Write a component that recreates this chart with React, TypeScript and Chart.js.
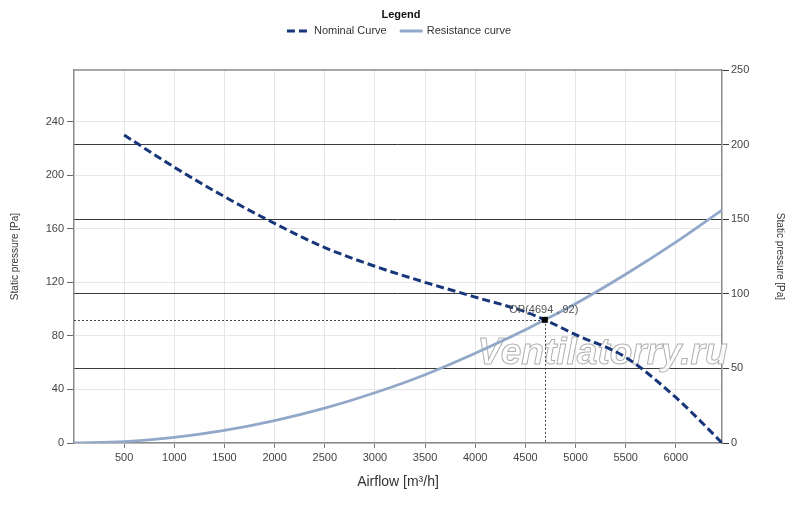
import React, { useEffect, useRef } from "react";
import { Chart, registerables } from "chart.js";

Chart.register(...registerables);

// ---- Data ----
const nominalFlow = [500, 1000, 1500, 2000, 2500, 3000, 3500, 4000, 4500, 4694, 5000, 5500, 6000, 6250, 6460];
const nominalPressure = [230, 206, 184, 164, 146, 132, 120, 109, 98, 92, 81, 64, 34, 16, 0];
const resistanceFlow = [0, 500, 1000, 1500, 2000, 2500, 3000, 3500, 4000, 4500, 4694, 5000, 5500, 6000, 6460];
const resistancePressure = [0, 1, 4.2, 9.4, 16.7, 26, 37.5, 51, 67, 84.5, 92, 104, 126, 150, 174];
const opFlow = 4694;
const opPressure = 92;
const opLabel = "OP(4694 , 92)";
const xTicks = [500, 1000, 1500, 2000, 2500, 3000, 3500, 4000, 4500, 5000, 5500, 6000];
const leftTicks = [0, 40, 80, 120, 160, 200, 240];
const rightTicks = [0, 50, 100, 150, 200, 250];
const xMax = 6460;
const leftMax = 278.6;
const rightMax = 250;
const seriesLabels = ["Nominal Curve", "Resistance curve"];
const legendTitle = "Legend";
const xTitle = "Airflow [m³/h]";
const yTitle = "Static pressure [Pa]";
const watermark = "Ventilatorry.ru";

const FONT = '"Liberation Sans", Arial, sans-serif';
const NAVY = "#17367a";
const LIGHT = "#92a8c9";
const plain = (v: any) => String(v);

const decorPlugin = {
  id: "decor",
  beforeDatasetsDraw(chart: any) {
    const { ctx, chartArea: a } = chart;
    ctx.save();
    ctx.strokeStyle = "#8a8a8a";
    ctx.lineWidth = 1.5;
    ctx.beginPath();
    ctx.moveTo(a.left, a.top);
    ctx.lineTo(a.right, a.top);
    ctx.stroke();
    ctx.font = `italic bold 37px ${FONT}`;
    ctx.textAlign = "center";
    ctx.textBaseline = "alphabetic";
    const wx = a.left + (a.right - a.left) * 0.8156;
    const wy = a.top + (a.bottom - a.top) * 0.788;
    ctx.fillStyle = "rgba(255,255,255,0.9)";
    ctx.fillText(watermark, wx, wy);
    ctx.lineWidth = 1;
    ctx.strokeStyle = "#b0b0b0";
    ctx.strokeText(watermark, wx, wy);
    ctx.restore();
  },
  afterDatasetsDraw(chart: any) {
    const { ctx, chartArea: a, scales } = chart;
    const px = scales.x.getPixelForValue(opFlow);
    const py = scales.y.getPixelForValue(opPressure);
    ctx.save();
    ctx.strokeStyle = "#444";
    ctx.lineWidth = 1;
    ctx.setLineDash([2, 2]);
    ctx.beginPath();
    ctx.moveTo(a.left, Math.round(py) + 0.5);
    ctx.lineTo(px, Math.round(py) + 0.5);
    ctx.moveTo(Math.round(px) + 0.5, py);
    ctx.lineTo(Math.round(px) + 0.5, a.bottom);
    ctx.stroke();
    ctx.setLineDash([]);
    ctx.fillStyle = "#000";
    ctx.fillRect(px - 3, py - 3, 6, 6);
    ctx.font = `11px ${FONT}`;
    ctx.fillStyle = "#555";
    ctx.textAlign = "center";
    ctx.textBaseline = "alphabetic";
    ctx.fillText(opLabel, px - 1, py - 7);
    ctx.restore();
  },
  afterDraw(chart: any) {
    const { ctx, width } = chart;
    ctx.save();
    const cx = width / 2 - 1;
    ctx.font = `bold 11px ${FONT}`;
    ctx.fillStyle = "#111";
    ctx.textAlign = "center";
    ctx.textBaseline = "middle";
    ctx.fillText(legendTitle, cx + 2, 15);
    ctx.font = `11px ${FONT}`;
    const sym = 23, gap = 4, itemGap = 13;
    const ds = chart.data.datasets;
    const widths = ds.map((d: any) => sym + gap + ctx.measureText(d.label).width);
    const total = widths.reduce((s: number, w: number) => s + w, 0) + itemGap * (ds.length - 1);
    let x = cx - total / 2;
    const y = 31;
    ds.forEach((d: any, i: number) => {
      ctx.strokeStyle = d.borderColor;
      ctx.lineWidth = 3;
      ctx.setLineDash(d.borderDash || []);
      ctx.beginPath();
      ctx.moveTo(x, y);
      ctx.lineTo(x + sym, y);
      ctx.stroke();
      ctx.setLineDash([]);
      ctx.fillStyle = "#333";
      ctx.textAlign = "left";
      ctx.fillText(d.label, x + sym + gap, y);
      x += widths[i] + itemGap;
    });
    ctx.restore();
  },
};

export default function App() {
  const ref = useRef<HTMLCanvasElement | null>(null);
  useEffect(() => {
    document.body.style.margin = "0";
    const canvas = ref.current;
    if (!canvas) return;
    const chart = new Chart(canvas, {
      type: "line",
      data: {
        datasets: [
          {
            label: seriesLabels[0],
            data: nominalFlow.map((x, i) => ({ x, y: nominalPressure[i] })),
            borderColor: NAVY,
            borderWidth: 3,
            borderDash: [8, 4],
            pointRadius: 0,
            cubicInterpolationMode: "monotone",
            yAxisID: "y",
          },
          {
            label: seriesLabels[1],
            data: resistanceFlow.map((x, i) => ({ x, y: resistancePressure[i] })),
            borderColor: LIGHT,
            borderWidth: 2.8,
            pointRadius: 0,
            cubicInterpolationMode: "monotone",
            yAxisID: "y",
          },
        ],
      },
      options: {
        animation: false,
        responsive: true,
        maintainAspectRatio: false,
        layout: { padding: { top: 70, left: 0, right: 0, bottom: 0 } },
        plugins: { legend: { display: false }, tooltip: { enabled: false } },
        scales: {
          x: {
            type: "linear",
            position: "bottom",
            min: 0,
            max: xMax,
            afterBuildTicks: (s: any) => {
              s.ticks = xTicks.map((v) => ({ value: v }));
            },
            afterFit: (s: any) => {
              s.height = 64;
            },
            grid: { color: "#e6e6e6", tickColor: "#777", tickLength: 5 },
            border: { color: "#8a8a8a", width: 1.5 },
            ticks: { color: "#444", font: { family: FONT, size: 11 }, padding: 3, maxRotation: 0, autoSkip: false, callback: plain },
            title: {
              display: true,
              text: xTitle,
              color: "#333",
              font: { family: FONT, size: 14 },
              padding: { top: 4, bottom: 16.6 },
            },
          },
          y: {
            type: "linear",
            position: "left",
            min: 0,
            max: leftMax,
            afterBuildTicks: (s: any) => {
              s.ticks = leftTicks.map((v) => ({ value: v }));
            },
            afterFit: (s: any) => {
              s.width = 74;
            },
            grid: { color: "#e6e6e6", tickColor: "#666", tickLength: 7 },
            border: { color: "#8a8a8a", width: 1.5 },
            ticks: { color: "#444", font: { family: FONT, size: 11 }, padding: 3, callback: plain },
            title: {
              display: true,
              text: yTitle,
              color: "#333",
              font: { family: FONT, size: 10 },
              padding: { top: 9, bottom: 0 },
            },
          },
          y2: {
            type: "linear",
            position: "right",
            min: 0,
            max: rightMax,
            afterBuildTicks: (s: any) => {
              s.ticks = rightTicks.map((v) => ({ value: v }));
            },
            afterFit: (s: any) => {
              s.width = 78;
            },
            grid: {
              color: (c: any) =>
                c.tick && (c.tick.value === 0 || c.tick.value === rightMax) ? "rgba(0,0,0,0)" : "#3a3a3a",
              tickColor: "#3a3a3a",
              tickLength: 7,
              lineWidth: 1,
            },
            border: { color: "#8a8a8a", width: 1.5 },
            ticks: { color: "#444", font: { family: FONT, size: 11 }, padding: 2, callback: plain },
            title: {
              display: true,
              text: yTitle,
              color: "#333",
              font: { family: FONT, size: 10 },
              padding: { top: 14, bottom: 0 },
            },
          },
        },
      },
      plugins: [decorPlugin],
    } as any);
    return () => chart.destroy();
  }, []);
  return (
    <div style={{ width: 800, height: 507, position: "relative" }}>
      <canvas ref={ref} />
    </div>
  );
}
